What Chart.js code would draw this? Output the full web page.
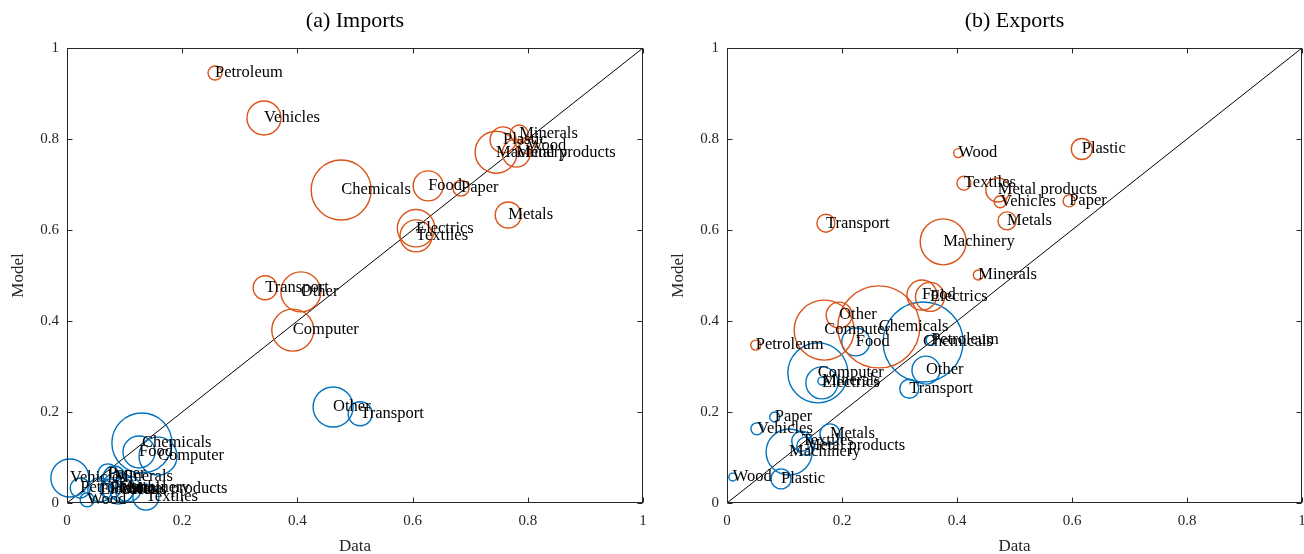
<!DOCTYPE html>
<html><head><meta charset="utf-8">
<script src="https://cdn.jsdelivr.net/npm/chart.js@4.4.1/dist/chart.umd.min.js"></script>
<style>
html,body{margin:0;padding:0;background:#fff;overflow:hidden;width:1304px;height:554px;}
canvas{position:absolute;top:0;}
#c1{left:0;} #c2{left:660px;}
</style></head><body>
<canvas id="c1" width="660" height="554"></canvas>
<canvas id="c2" width="646" height="554"></canvas>
<script>
// Categories (same order for every series)
const categories = ["Chemicals","Computer","Electrics","Food","Machinery","Metal products","Metals","Minerals","Other","Paper","Petroleum","Plastic","Textiles","Transport","Vehicles","Wood"];
const tickValues = [0, 0.2, 0.4, 0.6, 0.8, 1];
const tickLabels = ["0", "0.2", "0.4", "0.6", "0.8", "1"];
const panelTitles = ["(a) Imports", "(b) Exports"];

// (a) Imports — red series
const impRedData   = [0.476,0.392,0.606,0.627,0.745,0.780,0.766,0.785,0.406,0.684,0.257,0.757,0.606,0.344,0.342,0.799];
const impRedModel  = [0.688,0.380,0.604,0.697,0.771,0.769,0.633,0.811,0.464,0.692,0.945,0.798,0.587,0.473,0.846,0.785];
const impRedWeight = [0.25,0.1225,0.0971,0.0625,0.1225,0.0544,0.0469,0.0225,0.1111,0.0178,0.0136,0.0469,0.0711,0.04,0.0803,0.0178];
// (a) Imports — blue series
const impBlueData   = [0.130,0.158,0.057,0.125,0.089,0.106,0.095,0.082,0.462,0.071,0.023,0.075,0.137,0.509,0.005,0.035];
const impBlueModel  = [0.132,0.103,0.029,0.112,0.033,0.031,0.029,0.057,0.211,0.064,0.033,0.031,0.013,0.196,0.055,0.007];
const impBlueWeight = [0.25,0.1003,0.04,0.0711,0.0711,0.0469,0.04,0.0336,0.1111,0.0278,0.0278,0.0278,0.0469,0.04,0.1003,0.0136];
// (b) Exports — red series
const expRedData   = [0.264,0.169,0.353,0.339,0.376,0.471,0.487,0.437,0.195,0.595,0.050,0.617,0.412,0.172,0.475,0.402];
const expRedModel  = [0.387,0.380,0.453,0.457,0.574,0.688,0.620,0.501,0.413,0.664,0.347,0.778,0.703,0.615,0.662,0.769];
const expRedWeight = [0.4669,0.25,0.0584,0.0625,0.1469,0.04,0.0225,0.0069,0.0469,0.01,0.0069,0.0306,0.0136,0.0225,0.01,0.0056];
// (b) Exports — blue series
const expBlueData   = [0.341,0.158,0.165,0.224,0.108,0.137,0.179,0.165,0.346,0.083,0.355,0.094,0.130,0.317,0.052,0.010];
const expBlueModel  = [0.354,0.286,0.264,0.354,0.112,0.125,0.152,0.268,0.292,0.189,0.358,0.053,0.136,0.251,0.163,0.057];
const expBlueWeight = [0.4444,0.25,0.0711,0.0544,0.1469,0.0225,0.0278,0.0044,0.0544,0.0069,0.0069,0.0278,0.0278,0.0251,0.01,0.0044];

const RED = '#D95319', BLUE = '#0072BD', AX = '#262626';
const SERIF = '"Liberation Serif", "DejaVu Serif", serif';

function toPoints(xs, ys, ws) {
  return xs.map((v, i) => ({x: v, y: ys[i], r: 60 * Math.sqrt(ws[i])}));
}

const framePlugin = {
  id: 'frame',
  afterDatasetsDraw(chart) {
    const ctx = chart.ctx;
    ctx.save();
    ctx.font = '16.5px ' + SERIF;
    ctx.fillStyle = '#000';
    ctx.textBaseline = 'middle';
    ctx.textAlign = 'left';
    chart.data.datasets.forEach((ds, di) => {
      if (!ds.names) return;
      const meta = chart.getDatasetMeta(di);
      meta.data.forEach((el, i) => ctx.fillText(ds.names[i], el.x, el.y));
    });
    ctx.restore();
  },
  afterDraw(chart, args, opts) {
    const {ctx, chartArea: a, scales: {x, y}} = chart;
    ctx.save();
    ctx.strokeStyle = AX;
    ctx.lineWidth = 1;
    const L = Math.round(a.left) + 0.5, R = Math.round(a.right) - 0.5;
    const T = Math.round(a.top) + 0.5, B = Math.round(a.bottom) - 0.5;
    ctx.strokeRect(L, T, R - L, B - T);
    const tl = 5;
    ctx.beginPath();
    tickValues.forEach(v => {
      const px = Math.round(x.getPixelForValue(v)) + 0.5;
      ctx.moveTo(px, B); ctx.lineTo(px, B - tl);
      ctx.moveTo(px, T); ctx.lineTo(px, T + tl);
      const py = Math.round(y.getPixelForValue(v)) + 0.5;
      ctx.moveTo(L, py); ctx.lineTo(L + tl, py);
      ctx.moveTo(R, py); ctx.lineTo(R - tl, py);
    });
    ctx.stroke();
    ctx.fillStyle = '#000';
    ctx.font = '22px ' + SERIF;
    ctx.textAlign = 'center';
    ctx.textBaseline = 'middle';
    ctx.fillText(opts.title, (a.left + a.right) / 2, 21);
    ctx.restore();
  }
};

function zeroPad(s) { s.paddingLeft = 0; s.paddingRight = 0; s.paddingTop = 0; s.paddingBottom = 0; }

function makePanel(id, title, rX, rY, rW, bX, bY, bW, padRight) {
  const bubbleBase = {type: 'bubble', backgroundColor: 'rgba(0,0,0,0)', borderWidth: 1.4, hoverBorderWidth: 1.4, clip: false};
  const tickCb = (v) => { const k = tickValues.indexOf(+(+v).toFixed(2)); return k >= 0 ? tickLabels[k] : ''; };
  new Chart(document.getElementById(id), {
    type: 'bubble',
    data: {
      datasets: [
        Object.assign({}, bubbleBase, {label: 'red', names: categories, data: toPoints(rX, rY, rW), borderColor: RED, hoverBorderColor: RED}),
        Object.assign({}, bubbleBase, {label: 'blue', names: categories, data: toPoints(bX, bY, bW), borderColor: BLUE, hoverBorderColor: BLUE}),
        {type: 'line', label: 'diag', data: [{x: 0, y: 0}, {x: 1, y: 1}], borderColor: '#000', borderWidth: 1, pointRadius: 0, fill: false, clip: false}
      ]
    },
    options: {
      responsive: false,
      animation: false,
      events: [],
      layout: {autoPadding: false, padding: {top: 48, right: padRight, left: 0, bottom: 0}},
      plugins: {legend: {display: false}, tooltip: {enabled: false}, frame: {title: title}},
      scales: {
        x: {
          type: 'linear', min: 0, max: 1,
          afterBuildTicks: s => { s.ticks = tickValues.map(v => ({value: v})); },
          grid: {display: false, drawTicks: false}, border: {display: false},
          ticks: {padding: 9, color: AX, font: {family: SERIF, size: 15}, maxRotation: 0, callback: tickCb},
          title: {display: true, text: 'Data', color: AX, font: {family: SERIF, size: 17}, padding: {top: 0, bottom: -3}},
          afterFit: s => { s.height = 51; zeroPad(s); }
        },
        y: {
          type: 'linear', min: 0, max: 1,
          afterBuildTicks: s => { s.ticks = tickValues.map(v => ({value: v})); },
          grid: {display: false, drawTicks: false}, border: {display: false},
          ticks: {padding: 8, color: AX, font: {family: SERIF, size: 15}, callback: tickCb},
          title: {display: true, text: 'Model', color: AX, font: {family: SERIF, size: 17}, padding: {top: 8, bottom: 0}},
          afterFit: s => { s.width = 67; zeroPad(s); }
        }
      }
    },
    plugins: [framePlugin]
  });
}

makePanel('c1', panelTitles[0], impRedData, impRedModel, impRedWeight, impBlueData, impBlueModel, impBlueWeight, 17);
makePanel('c2', panelTitles[1], expRedData, expRedModel, expRedWeight, expBlueData, expBlueModel, expBlueWeight, 4);
</script>
</body></html>
